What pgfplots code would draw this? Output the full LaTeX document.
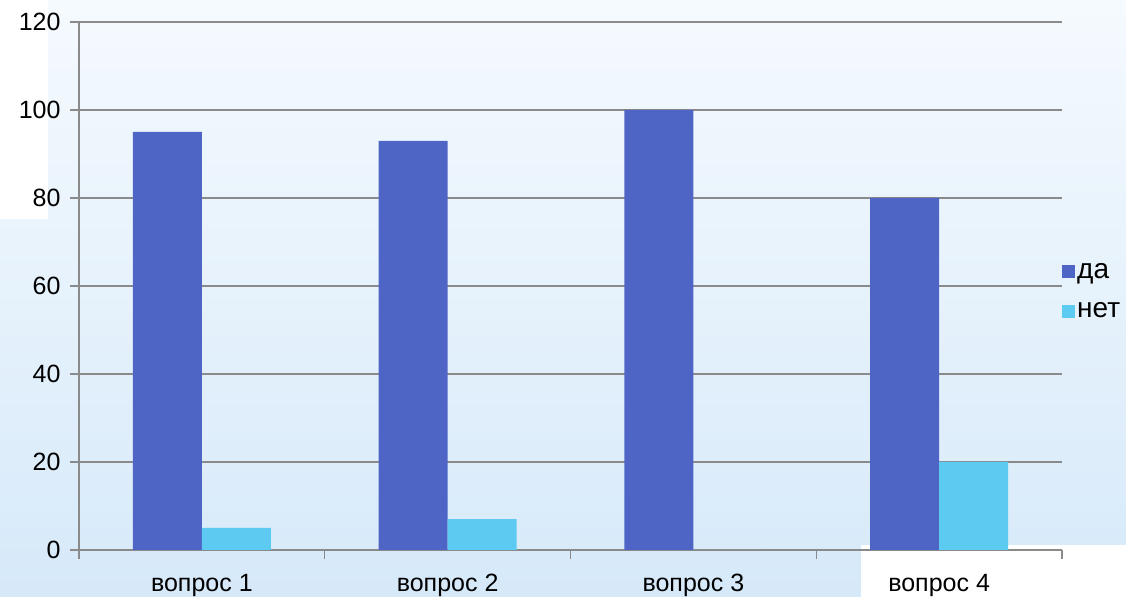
\documentclass[border=0pt]{standalone}
\usepackage{fontspec}
\setmainfont{Liberation Sans}
\usepackage{pgfplots}
\pgfplotsset{compat=1.18}
\definecolor{da}{HTML}{4F65C6}
\definecolor{net}{HTML}{5DCBF1}
\definecolor{gridc}{HTML}{8A8A8A}
\definecolor{bgtop}{HTML}{F5FAFE}
\definecolor{bgmid}{HTML}{EEF5FD}
\definecolor{bgbot}{HTML}{D6E9F9}
\begin{document}
\begin{tikzpicture}[x=1bp,y=1bp]
\fill[top color=bgtop, middle color=bgmid, bottom color=bgbot] (0,0) rectangle (1126,597);
\fill[white] (0,378) rectangle (48,597);
\fill[white] (861,0) rectangle (1126,52);
\begin{axis}[
  at={(79bp,47bp)}, anchor=south west,
  scale only axis, width=983bp, height=528bp,
  xmin=-0.5, xmax=3.5, ymin=0, ymax=120,
  ytick={0,20,...,120},
  xtick={0,1,2,3},
  xticklabels={вопрос 1,вопрос 2,вопрос 3,вопрос 4},
  minor xtick={-0.5,0.5,1.5,2.5,3.5},
  axis x line*=bottom, axis y line*=left,
  axis line style={gridc, line width=1.3bp, -},
  ymajorgrids, grid style={gridc, line width=1.3bp},
  major grid style={gridc, line width=1.3bp},
  tick style={gridc, line width=1.3bp},
  ytick style={gridc, line width=1.3bp},
  tick align=outside,
  major tick length=9bp, minor tick length=9bp,
  major x tick style={draw=none},
  ybar, bar width=69bp,
  ticklabel style={font=\fontsize{25bp}{29bp}\selectfont, text=black},
  /pgf/number format/assume math mode=true,
  yticklabel style={xshift=-6bp},
  xticklabel style={yshift=-12bp},
  legend style={at={(0.997,0.49)}, anchor=west, draw=none, fill=none,
    font=\fontsize{28bp}{32bp}\selectfont, row sep=19bp,
    /tikz/every even column/.append style={column sep=0bp}},
  legend cell align=left,
  legend image code/.code={\fill[#1] (0bp,-7bp) rectangle (13bp,6bp);},
]
\addplot[fill=da, draw=none, bar shift=-34.5bp] coordinates {(0,95) (1,93) (2,100) (3,80)};
\addlegendentry{да}
\addplot[fill=net, draw=none, bar shift=34.5bp] coordinates {(0,5) (1,7) (2,0) (3,20)};
\addlegendentry{нет}
\end{axis}
\pgfresetboundingbox
\path[use as bounding box] (0,0) rectangle (1126,597);
\end{tikzpicture}
\end{document}
